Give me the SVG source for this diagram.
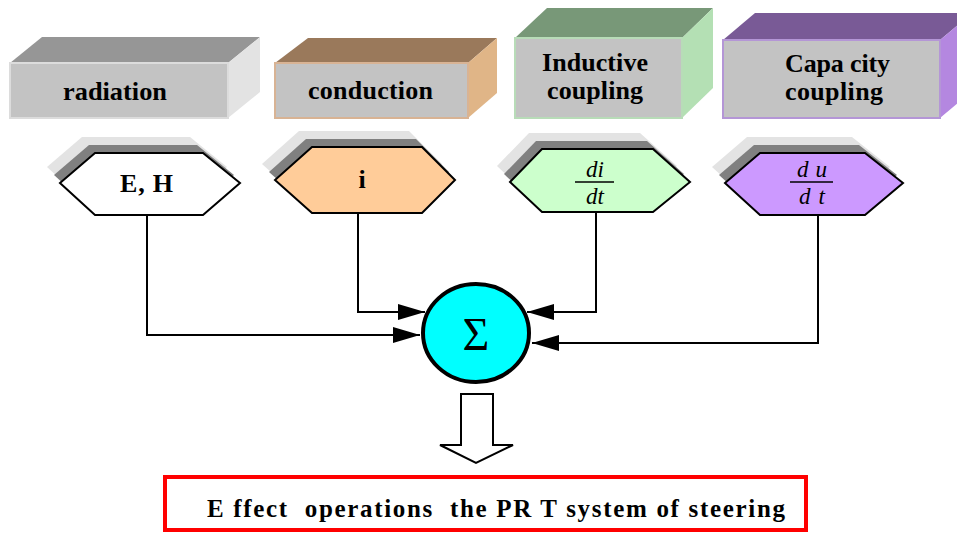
<svg xmlns="http://www.w3.org/2000/svg" width="957" height="533" viewBox="0 0 957 533">
<defs>
<style>
text{font-family:"Liberation Serif","Times New Roman",serif}
.lbl{font-weight:bold;font-size:26px;fill:#000;text-anchor:middle}
.frac{font-style:italic;font-size:23px;fill:#000;text-anchor:middle}
.front{fill:#c3c3c3;stroke-width:2}
.hex{stroke:#000;stroke-width:2}
.sh1{fill:#e3e3e3}
.sh2{fill:#808080}
.conn{fill:none;stroke:#000;stroke-width:2}
</style>
<marker id="arr" markerUnits="userSpaceOnUse" markerWidth="27" markerHeight="16" refX="27" refY="8" orient="auto">
<path d="M0,0 L27,8 L0,16 Z" fill="#000"/>
</marker>
<polygon id="hexEH" points="60,183 95,153 203,153 240,183 203,215 95,215"/>
<polygon id="hexI" points="275,180 312,147 422,147 455,180 422,213 312,213"/>
<polygon id="hexDI" points="510,182 542,149 653,149 690,182 653,212 542,212"/>
<polygon id="hexDU" points="725,183 760,153 865,153 903,183 865,215 760,215"/>
</defs>
<rect width="957" height="533" fill="#fff"/>

<g id="box-radiation">
<polygon points="10,63 42,37 260,37 228,63" fill="#969696"/>
<polygon points="228,63 260,37 260,92 228,118" fill="#e3e3e3"/>
<rect class="front" x="10" y="63" width="218" height="55" stroke="#dcdcdc"/>
<text class="lbl" font-family="Liberation Serif, serif" x="115" y="100" textLength="104" lengthAdjust="spacingAndGlyphs">radiation</text>
</g>

<g id="box-conduction">
<polygon points="275,63 308,38 497,38 468,63" fill="#9a795b"/>
<polygon points="468,63 497,38 497,93 468,118" fill="#e0b587"/>
<rect class="front" x="275" y="63" width="193" height="55" stroke="#d8b394"/>
<text class="lbl" font-family="Liberation Serif, serif" x="370.5" y="99" textLength="125" lengthAdjust="spacing">conduction</text>
</g>

<g id="box-inductive">
<polygon points="515,38 547,8 713,8 682,38" fill="#789878"/>
<polygon points="682,38 713,8 713,88 682,118" fill="#b4e0b4"/>
<rect class="front" x="515" y="38" width="167" height="80" stroke="#b8dcb8"/>
<text class="lbl" font-family="Liberation Serif, serif" x="595" y="71" textLength="106" lengthAdjust="spacing">Inductive</text>
<text class="lbl" font-family="Liberation Serif, serif" x="595" y="99" textLength="96" lengthAdjust="spacing">coupling</text>
</g>

<g id="box-capacity">
<polygon points="723,40 755,13 972,13 940,40" fill="#795a96"/>
<polygon points="940,40 972,13 972,91 940,118" fill="#b487e0"/>
<rect class="front" x="723" y="40" width="217" height="78" stroke="#b496d6"/>
<text class="lbl" font-family="Liberation Serif, serif" x="837.5" y="72" textLength="105" lengthAdjust="spacing">Capa city</text>
<text class="lbl" font-family="Liberation Serif, serif" x="834" y="100" textLength="98" lengthAdjust="spacing">coupling</text>
</g>

<g id="hex-EH">
<use href="#hexEH" class="sh1" transform="translate(-13,-16)"/>
<use href="#hexEH" class="sh2" transform="translate(-6,-8)"/>
<use href="#hexEH" class="hex" fill="#fff"/>
<text class="lbl" font-family="Liberation Serif, serif" x="146.5" y="192" textLength="53" lengthAdjust="spacing">E, H</text>
</g>

<g id="hex-i">
<use href="#hexI" class="sh1" transform="translate(-13,-16)"/>
<use href="#hexI" class="sh2" transform="translate(-6,-8)"/>
<use href="#hexI" class="hex" fill="#ffcc99"/>
<text class="lbl" font-family="Liberation Serif, serif" x="362" y="188">i</text>
</g>

<g id="hex-didt">
<use href="#hexDI" class="sh1" transform="translate(-13,-16)"/>
<use href="#hexDI" class="sh2" transform="translate(-6,-8)"/>
<use href="#hexDI" class="hex" fill="#ccffcc"/>
<text class="frac" font-family="Liberation Serif, serif" x="595" y="177">di</text>
<line x1="575" y1="182" x2="614" y2="182" stroke="#000" stroke-width="1.5"/>
<text class="frac" font-family="Liberation Serif, serif" x="595" y="204">dt</text>
</g>

<g id="hex-dudt">
<use href="#hexDU" class="sh1" transform="translate(-13,-16)"/>
<use href="#hexDU" class="sh2" transform="translate(-6,-8)"/>
<use href="#hexDU" class="hex" fill="#cc99ff"/>
<text class="frac" font-family="Liberation Serif, serif" x="812" y="177" textLength="30" lengthAdjust="spacing">du</text>
<line x1="790" y1="182" x2="833" y2="182" stroke="#000" stroke-width="1.5"/>
<text class="frac" font-family="Liberation Serif, serif" x="812" y="204" textLength="26" lengthAdjust="spacing">dt</text>
</g>

<g id="connectors">
<path class="conn" d="M147,215 V335 H420" marker-end="url(#arr)"/>
<path class="conn" d="M358,213 V312 H425" marker-end="url(#arr)"/>
<path class="conn" d="M596,212 V312 H527" marker-end="url(#arr)"/>
<path class="conn" d="M818,215 V343 H532" marker-end="url(#arr)"/>
<polygon points="461,394 493,394 493,445 513,445 476,463 440,445 461,445" fill="#fff" stroke="#000" stroke-width="2"/>
</g>

<g id="sum">
<ellipse cx="476" cy="333" rx="53" ry="49" fill="#00ffff" stroke="#000" stroke-width="4"/>
<text x="476" y="350" font-family="Liberation Serif, serif" font-size="46" text-anchor="middle">Σ</text>
</g>

<g id="result">
<rect x="165" y="477" width="641" height="53" fill="#fff" stroke="#ff0000" stroke-width="4"/>
<text class="lbl" font-family="Liberation Serif, serif" x="207" y="517" style="text-anchor:start;white-space:pre;font-size:25px" textLength="578" lengthAdjust="spacing">E ffect  operations  the PR T system of steering</text>
</g>
</svg>
